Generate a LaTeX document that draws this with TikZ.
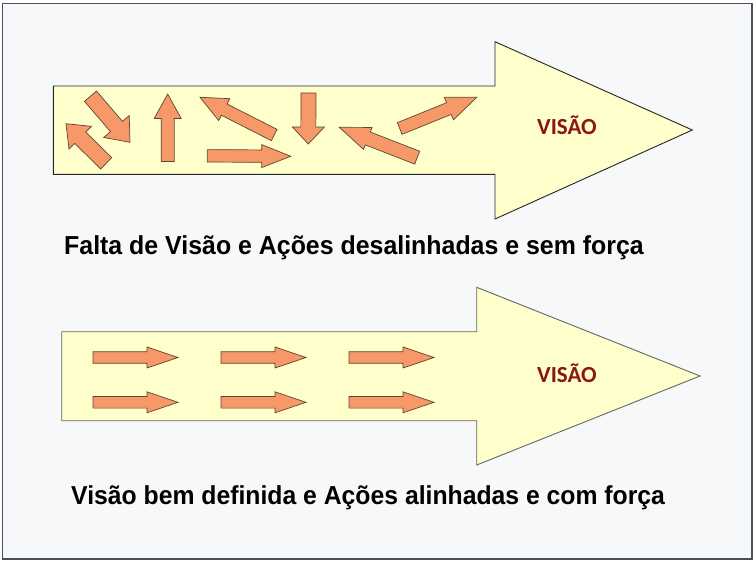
\documentclass[tikz,border=0pt]{standalone}
\usepackage{fontspec}
\setmainfont{Liberation Sans}
\newfontfamily\visfont{Carlito}
\usetikzlibrary{calc}
\definecolor{bgc}{HTML}{F7F8F9}
\definecolor{framec}{HTML}{4A5056}
\definecolor{bigfill}{HTML}{FFFFCC}
\definecolor{smallfill}{HTML}{F79868}
\definecolor{smallline}{HTML}{5C4633}
\definecolor{visc}{HTML}{8B1616}
\tikzset{
  bigarrow/.style={fill=bigfill, draw=#1, line width=0.9pt, line join=miter},
  smallarr/.style={fill=smallfill, draw=smallline, line width=0.7pt, line join=miter},
  vislabel/.style={anchor=base west, inner sep=0pt, text=visc, font=\visfont\bfseries\fontsize{23}{26}\selectfont},
  caption/.style={anchor=base west, inner sep=0pt, text=black, font=\bfseries\fontsize{26}{30}\selectfont}
}
\newcommand\blockarr[5]{%
  \coordinate (ta) at #1; \coordinate (tb) at #2;
  \coordinate (hb) at ($(tb)!#5pt!(ta)$);
  \draw[smallarr] ($(ta)!#3pt!90:(tb)$) -- ($(hb)!#3pt!-90:(ta)$) -- ($(hb)!#4pt!-90:(ta)$) -- (tb)
     -- ($(hb)!#4pt!90:(ta)$) -- ($(hb)!#3pt!90:(ta)$) -- ($(ta)!#3pt!-90:(tb)$) -- cycle;}
\begin{document}
\begin{tikzpicture}[x=1pt, y=-1pt]
\useasboundingbox (0,0) rectangle (756,563);
\fill[white] (0,0) rectangle (756,563);
\draw[fill=bgc, draw=framec, line width=1.5pt] (2.5,3.5) rectangle (752,559);
% top big arrow
\draw[bigarrow=black!85] (53.3,86) -- (495,86) -- (495,41.7) -- (692.3,130) -- (495,219) -- (495,174.3) -- (53.3,174.3) -- cycle;
% bottom big arrow
\draw[bigarrow=black!60] (61.7,331.7) -- (476.7,331.7) -- (476.7,287.3) -- (700,376) -- (476.7,465) -- (476.7,420.7) -- (61.7,420.7) -- cycle;
% top small arrows (misaligned)
\blockarr{(106.2,163.3)}{(66,123.7)}{7.9}{16}{20}
\blockarr{(90.5,96.2)}{(130,142.3)}{7.9}{16.8}{20.8}
\blockarr{(167.7,161.5)}{(167.7,94)}{6.5}{13.5}{24.5}
\blockarr{(274.2,135)}{(200,97.3)}{6.3}{12.3}{27.2}
\blockarr{(207.3,155.8)}{(290.7,156.3)}{6.2}{11.5}{29}
\blockarr{(308.5,93)}{(308.3,144)}{7.5}{16}{17}
\blockarr{(417.2,157.7)}{(339.3,127.3)}{6.9}{11.8}{30.6}
\blockarr{(399.7,128.5)}{(476.7,97.3)}{6.3}{12.2}{30}
% bottom small arrows (aligned)
\foreach \xx in {93,221,349}{
  \blockarr{(\xx,357.5)}{(\xx+85,357.5)}{5.8}{10.5}{31}
  \blockarr{(\xx,402.3)}{(\xx+85,402.3)}{5.8}{10.5}{31}
}
\node[vislabel] (vis1) at (537,134.5) {VISÃO};
\node[vislabel] (vis2) at (537,382.5) {VISÃO};
\node[caption] (cap1) at (64,254.5) {\scalebox{0.958}[1]{Falta de Visão e Ações desalinhadas e sem força}};
\node[caption] (cap2) at (71,504.5) {\scalebox{0.952}[1]{Visão bem definida e Ações alinhadas e com força}};
\end{tikzpicture}
\end{document}
